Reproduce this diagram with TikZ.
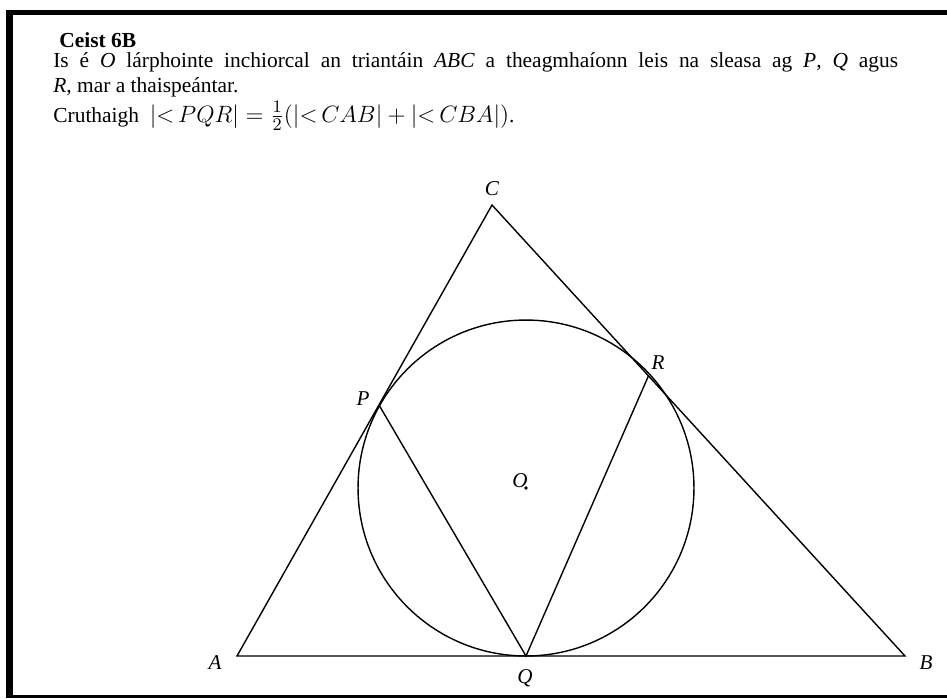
\documentclass[tikz,border=0pt]{standalone}
\usepackage{amsmath}
\usepackage{fontspec}
\setmainfont{Liberation Serif}
\usetikzlibrary{positioning}

\begin{document}
\begin{tikzpicture}[x=0.02cm,y=-0.02cm,every node/.style={inner sep=0pt,font=\fontsize{12.2}{14}\selectfont},lbl/.style={font=\fontsize{12}{14}\selectfont\itshape},edge/.style={line width=0.8pt}]
\useasboundingbox (0,0) rectangle (947,698);
% frame
\draw[line width=2.8pt] (6,12.5) -- (947,12.5);
\draw[line width=4pt] (9.5,10) -- (9.5,698);
\draw[line width=1.7pt] (6,696.5) -- (947,696.5);
% text
\node[anchor=base west,font=\fontsize{12.2}{14}\selectfont\bfseries] (t0) at (59,47) {Ceist 6B};
\node[anchor=base west] (t1) at (53,67) {\makebox[16.9cm][s]{Is é \textit{O} lárphointe inchiorcal an triantáin \textit{ABC} a theagmhaíonn leis na sleasa ag \textit{P}, \textit{Q} agus}};
\node[anchor=base west] (t2) at (53,92) {\textit{R}, mar a thaispeántar.};
\node[anchor=base west] (t3) at (53,122) {Cruthaigh \ \scalebox{1.12}{$|{<}\,PQR| = \frac{1}{2}(|{<}\,CAB| + |{<}\,CBA|)$}.};
% points
\coordinate (A) at (237,656);
\coordinate (B) at (905,656);
\coordinate (C) at (492,205);
\coordinate (O) at (526,488);
\coordinate (P) at (379,405);
\coordinate (Q) at (526,656);
\coordinate (R) at (648.5,375.8);
% figure
\draw[edge] (A) -- (B) -- (C) -- cycle;
\draw[edge] (O) circle [radius=3.36cm];
\draw[edge] (P) -- (Q) -- (R);
\fill (O) circle [radius=1.1pt];
% labels
\node[lbl] (lA) at (215,663) {A};
\node[lbl] (lB) at (926,663) {B};
\node[lbl] (lC) at (492,189) {C};
\node[lbl] (lP) at (363,399) {P};
\node[lbl] (lQ) at (525,678) {Q};
\node[lbl] (lR) at (658,363) {R};
\node[lbl] (lO) at (520,481) {O};

\end{tikzpicture}
\end{document}
